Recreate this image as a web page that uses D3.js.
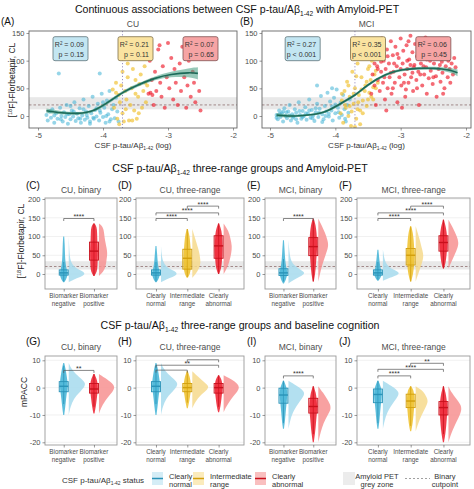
<!DOCTYPE html>
<html><head><meta charset="utf-8">
<script src="https://cdn.jsdelivr.net/npm/d3@7"></script>
<style>body{margin:0;background:#fff}svg{display:block;font-family:"Liberation Sans",Arial,Helvetica,sans-serif}</style>
</head><body><svg id="chart" width="474" height="489"></svg>
<script>
// ---------------- DATA ----------------
const xTicksAB = [-5, -4, -3, -2];
const yTicksAB = [0, 50, 100, 150];
const yTicksPET = [0, 50, 100, 150, 200];
const yTicksPACC = [-20, -10, 0, 10];
const binaryCats = [["Biomarker", "negative"], ["Biomarker", "positive"]];
const threeCats = [["Clearly", "normal"], ["Intermediate", "range"], ["Clearly", "abnormal"]];
const greyZone = [12, 34];
const binaryCut = 20;
const ratioCut = -3.7;

// Panel A (CU) scatter: [log ratio, CL]
const cuNormalPts = [[-4.87,2],[-4.85,-8],[-4.82,8],[-4.8,-3],[-4.78,12],[-4.75,-12],[-4.72,5],[-4.7,-5],[-4.68,77],[-4.66,15],[-4.64,0],[-4.62,-10],[-4.6,7],[-4.58,-2],[-4.56,20],[-4.54,-14],[-4.52,3],[-4.5,-6],[-4.48,10],[-4.46,-1],[-4.44,25],[-4.42,-9],[-4.4,4],[-4.38,-4],[-4.36,14],[-4.34,-12],[-4.32,1],[-4.3,30],[-4.28,-7],[-4.26,8],[-4.24,-3],[-4.22,18],[-4.2,-10],[-4.18,5],[-4.16,35],[-4.14,-5],[-4.12,11],[-4.1,-1],[-4.08,22],[-4.06,-8],[-4.05,77],[-4.04,6],[-4.02,40],[-4.0,-2],[-3.98,15],[-3.96,-12],[-3.94,28],[-3.92,3],[-3.9,45],[-3.88,-6],[-3.86,12],[-3.84,20],[-3.82,-4],[-3.8,33],[-3.78,8],[-3.76,-10],[-4.45,8],[-4.35,-5],[-4.25,2],[-4.15,-3],[-4.05,10],[-3.95,0],[-4.55,3],[-4.65,-6],[-4.75,1],[-4.3,12],[-4.2,-14],[-4.1,14],[-4.0,25],[-3.9,-10],[-4.5,18]];
const cuInterPts = [[-3.85,48],[-3.83,15],[-3.8,60],[-3.78,-5],[-3.76,38],[-3.74,25],[-3.72,55],[-3.7,5],[-3.68,-10],[-3.66,45],[-3.64,30],[-3.62,70],[-3.6,-8],[-3.58,20],[-3.56,50],[-3.54,85],[-3.52,10],[-3.5,65],[-3.48,-5],[-3.46,35],[-3.44,58],[-3.42,75],[-3.4,15],[-3.38,45],[-3.36,90],[-3.34,25],[-3.32,55],[-3.75,-15],[-3.65,12],[-3.55,-8],[-3.45,5],[-3.62,95],[-3.8,42],[-3.7,80],[-3.5,40],[-3.35,60]];
const cuAbnPts = [[-3.3,40],[-3.28,100],[-3.25,65],[-3.22,20],[-3.2,80],[-3.18,45],[-3.15,120],[-3.12,60],[-3.1,35],[-3.08,90],[-3.05,15],[-3.02,70],[-3.0,132],[-2.98,50],[-2.95,105],[-2.92,30],[-2.9,85],[-2.88,60],[-2.85,20],[-2.82,95],[-2.8,45],[-2.78,125],[-2.75,70],[-2.72,15],[-2.7,55],[-2.68,100],[-2.65,35],[-2.62,80],[-2.6,60],[-2.58,25],[-2.55,110],[-2.52,45],[-2.5,10],[-3.27,42],[-3.24,38],[-3.13,128]];
// Panel B (MCI) scatter
const mciNormalPts = [[-4.9,2],[-4.88,-6],[-4.86,10],[-4.84,-2],[-4.82,5],[-4.8,-10],[-4.78,14],[-4.76,0],[-4.74,-4],[-4.72,8],[-4.7,20],[-4.68,-8],[-4.66,3],[-4.64,-1],[-4.62,12],[-4.6,6],[-4.58,-12],[-4.56,25],[-4.54,2],[-4.52,-5],[-4.5,9],[-4.48,0],[-4.46,16],[-4.44,-7],[-4.42,4],[-4.4,30],[-4.38,-3],[-4.36,11],[-4.34,1],[-4.32,-9],[-4.3,7],[-4.28,22],[-4.26,-2],[-4.24,13],[-4.22,36],[-4.2,3],[-4.18,-6],[-4.16,18],[-4.14,8],[-4.12,42],[-4.1,-1],[-4.08,26],[-4.06,10],[-4.04,-8],[-4.02,33],[-4.0,5],[-3.98,48],[-3.96,15],[-3.94,-3],[-3.92,24],[-3.9,2],[-3.88,38],[-3.86,12],[-3.84,-10],[-3.82,20],[-3.8,6],[-3.78,30],[-4.85,4],[-4.75,7],[-4.65,-3],[-4.55,9],[-4.45,5],[-4.35,-4],[-4.25,6],[-4.15,0],[-4.05,17],[-3.95,7],[-4.7,1],[-4.5,-2],[-4.3,14],[-4.1,4],[-4.6,-6],[-4.4,10],[-4.2,-11],[-4.0,21],[-3.85,-5],[-4.8,8],[-4.9,-3],[-4.28,55],[-4.05,50]];
const mciInterPts = [[-3.92,5],[-3.9,28],[-3.88,-12],[-3.86,45],[-3.84,15],[-3.82,62],[-3.8,0],[-3.78,35],[-3.76,-18],[-3.74,80],[-3.72,22],[-3.7,50],[-3.68,-5],[-3.66,95],[-3.64,38],[-3.62,10],[-3.6,70],[-3.58,28],[-3.56,110],[-3.54,55],[-3.52,18],[-3.5,85],[-3.48,42],[-3.46,65],[-3.44,100],[-3.42,30],[-3.4,75],[-3.38,50],[-3.36,115],[-3.35,60],[-3.85,20],[-3.75,8],[-3.65,25],[-3.55,45],[-3.45,35],[-3.62,-15],[-3.58,5],[-3.52,62],[-3.48,90],[-3.72,40],[-3.8,55],[-3.68,72],[-3.6,48],[-3.42,52],[-3.38,82],[-3.7,-20],[-3.66,12],[-3.5,30],[-3.9,40],[-3.78,18]];
const mciAbnPts = [[-3.45,40],[-3.43,75],[-3.42,105],[-3.4,55],[-3.39,130],[-3.38,20],[-3.36,90],[-3.35,65],[-3.33,115],[-3.32,45],[-3.3,80],[-3.29,140],[-3.27,60],[-3.26,100],[-3.24,30],[-3.23,85],[-3.21,120],[-3.2,50],[-3.18,95],[-3.17,70],[-3.15,135],[-3.14,40],[-3.12,110],[-3.11,80],[-3.09,60],[-3.08,125],[-3.06,90],[-3.05,25],[-3.03,105],[-3.02,70],[-3.0,140],[-2.99,55],[-2.97,95],[-2.96,118],[-2.94,75],[-2.93,35],[-2.91,128],[-2.9,85],[-2.88,60],[-2.87,102],[-2.85,145],[-2.84,70],[-2.82,115],[-2.81,45],[-2.79,92],[-2.78,130],[-2.76,65],[-2.75,108],[-2.73,80],[-2.72,20],[-2.7,122],[-2.69,95],[-2.67,55],[-2.66,138],[-2.64,75],[-2.63,110],[-2.61,88],[-2.6,40],[-2.58,125],[-2.57,68],[-2.55,100],[-2.54,82],[-2.52,132],[-2.51,58],[-2.49,95],[-2.48,115],[-2.46,72],[-2.45,35],[-2.43,105],[-2.42,85],[-2.4,128],[-2.39,62],[-2.37,98],[-2.36,78],[-2.34,112],[-2.33,50],[-2.31,90],[-2.3,120],[-2.28,70],[-2.27,100],[-2.25,85],[-2.24,60],[-2.22,95],[-2.2,75],[-2.18,105],[-2.16,88],[-3.1,95],[-3.0,85],[-2.9,100],[-2.8,88],[-2.7,75],[-3.2,108],[-3.3,98],[-3.05,112],[-2.95,60],[-2.85,92],[-2.75,50],[-2.65,90],[-2.55,118],[-2.5,70],[-2.6,102],[-3.15,78],[-3.25,70],[-3.35,85],[-3.4,95],[-2.4,92],[-2.35,40],[-2.45,130],[-2.92,48],[-2.82,78],[-3.12,50],[-3.22,10],[-2.98,15],[-2.62,142],[-2.88,135]];
// smooth fits: [x, fitted CL, half-width of CI]
const cuFit = [[-4.87,9.6,4],[-4.64,6,3],[-4.39,4.8,2.5],[-4.13,10.8,2.5],[-3.87,28.9,3],[-3.67,44,3],[-3.46,56,3],[-3.2,68,3.5],[-2.95,75,5],[-2.69,78,8],[-2.54,77,11]];
const mciFit = [[-4.9,1.8,3.5],[-4.67,0,2.5],[-4.42,1.8,2],[-4.16,7.8,2],[-3.91,23,2.5],[-3.7,38,2.5],[-3.5,56,2.5],[-3.24,74,2.5],[-2.99,83,2.5],[-2.73,86,2.5],[-2.48,86,3],[-2.27,83,4],[-2.13,78,6]];
// stat boxes [R2, p]
const cuStats = [["0.09","p = 0.15"],["0.21","p = 0.11"],["0.07","p = 0.65"]];
const mciStats = [["0.27","p < 0.001"],["0.35","p < 0.001"],["0.06","p = 0.45"]];
const statCenters = [-4.5, -3.5, -2.5];

// Raincloud groups: box [lo, q1, median, q3, hi]; density knots [value, relative width]
const petCuBinary = [
  {k:"n", box:[-20,-3,3,11,32], dens:[[-22,0],[-15,0.25],[-8,0.7],[0,1],[8,0.8],[15,0.45],[25,0.2],[40,0.08],[60,0.04],[80,0.02],[100,0]]},
  {k:"a", box:[-5,37,61,85,135], dens:[[-5,0],[5,0.25],[20,0.4],[40,0.45],[55,0.5],[70,0.45],[90,0.35],[110,0.3],[125,0.25],[135,0]]}];
const petCuThree = [
  {k:"n", box:[-20,-3,3,11,32], dens:[[-22,0],[-15,0.25],[-8,0.7],[0,1],[8,0.8],[15,0.45],[25,0.2],[40,0.08],[55,0.03],[75,0]]},
  {k:"i", box:[-8,13,42,66,120], dens:[[-10,0],[0,0.2],[15,0.4],[30,0.5],[45,0.45],[60,0.4],[75,0.3],[90,0.2],[105,0.1],[120,0]]},
  {k:"a", box:[0,42,75,102,135], dens:[[0,0],[15,0.2],[35,0.35],[55,0.45],[75,0.5],[95,0.4],[115,0.3],[135,0]]}];
const petMciBinary = [
  {k:"n", box:[-20,-4,3,14,40], dens:[[-25,0],[-15,0.3],[-5,0.8],[3,1],[12,0.7],[22,0.35],[35,0.15],[55,0.06],[90,0]]},
  {k:"a", box:[-20,49,73,97,145], dens:[[-20,0],[0,0.1],[20,0.2],[40,0.35],[60,0.5],[75,0.6],[90,0.55],[110,0.4],[130,0.2],[148,0]]}];
const petMciThree = [
  {k:"n", box:[-15,-3,3,11,32], dens:[[-18,0],[-10,0.4],[-3,0.85],[3,1],[10,0.7],[20,0.3],[35,0.1],[65,0]]},
  {k:"i", box:[-20,24,50,68,125], dens:[[-20,0],[0,0.15],[20,0.3],[40,0.45],[55,0.45],[70,0.35],[90,0.25],[110,0.12],[128,0]]},
  {k:"a", box:[15,61,84,102,145], dens:[[15,0],[30,0.15],[50,0.35],[70,0.55],[85,0.6],[100,0.5],[120,0.3],[145,0]]}];
const cogCuBinary = [
  {k:"n", box:[-6,-1.5,0.5,2.2,8], dens:[[-10,0],[-7,0.1],[-4,0.3],[-2,0.6],[0,0.9],[1.5,1],[3,0.8],[5,0.4],[7,0.15],[9,0]]},
  {k:"a", box:[-7,-2,-0.5,1.5,5], dens:[[-9.5,0],[-7,0.15],[-4,0.45],[-2,0.75],[0,0.95],[1.5,0.8],[3,0.5],[5,0]]}];
const cogCuThree = [
  {k:"n", box:[-6,-1.5,0.5,2.2,8], dens:[[-10,0],[-7,0.1],[-4,0.3],[-2,0.6],[0,0.9],[1.5,1],[3,0.8],[5,0.4],[7,0.15],[9,0]]},
  {k:"i", box:[-5.5,-1.5,0,1.5,6], dens:[[-7.5,0],[-5,0.2],[-3,0.45],[-1,0.85],[0.5,1],[2,0.7],[4,0.35],[6,0]]},
  {k:"a", box:[-7,-2,0,1.5,4.5], dens:[[-9,0],[-7,0.15],[-4,0.45],[-2,0.75],[0,0.95],[1.5,0.8],[3,0.5],[4.5,0]]}];
const cogMciBinary = [
  {k:"n", box:[-13,-5.7,-2.7,-0.2,2.5], dens:[[-15,0],[-12,0.1],[-9,0.25],[-6,0.55],[-4,0.8],[-2,1],[0,0.7],[2.5,0]]},
  {k:"a", box:[-17,-9.3,-6.9,-3.9,0.5], dens:[[-20,0],[-16,0.15],[-13,0.3],[-10,0.55],[-8,0.75],[-6,0.7],[-4,0.5],[-2,0.3],[0.5,0]]}];
const cogMciThree = [
  {k:"n", box:[-13,-5.5,-2.5,-0.5,2.5], dens:[[-15,0],[-12,0.1],[-9,0.25],[-6,0.55],[-4,0.8],[-2,1],[0,0.7],[2.5,0]]},
  {k:"i", box:[-14,-7.3,-4.9,-2.4,0.5], dens:[[-16,0],[-13,0.15],[-10,0.35],[-7,0.6],[-5,0.75],[-3,0.6],[-1,0.4],[0.5,0]]},
  {k:"a", box:[-17,-10,-7.3,-5.1,0.5], dens:[[-20,0],[-17,0.15],[-14,0.35],[-11,0.6],[-8,0.8],[-6,0.7],[-4,0.45],[-2,0.2],[0.5,0]]}];
// significance brackets [group1, group2, y, label]
const sigPetBinary = [[0,1,148,"****"]];
const sigPetThree = [[0,1,148,"****"],[0,2,163,"****"],[1,2,181,"****"]];
const sigCogCuBinary = [[0,1,6.3,"**"]];
const sigCogCuThree = [[0,1,6.4,""],[0,2,8.2,"**"],[1,2,10.2,""]];
const sigCogMciBinary = [[0,1,4.3,"****"]];
const sigCogMciThree = [[0,1,4.3,"****"],[0,2,6.7,"****"],[1,2,8.9,"**"]];
const legendItems = [["n","Clearly","normal"],["i","Intermediate","range"],["a","Clearly","abnormal"]];

// ---------------- DRAWING ----------------
const svg = d3.select("#chart");
const COL = {n:"#3fb3d6", i:"#efbf28", a:"#ee1b2b"};
const DARK = {n:"#2a93b8", i:"#d29f0c", a:"#c8101c"};
const LIGHT = {n:"#a6daed", i:"#f6d98c", a:"#f79090"};
const BOXF = {n:"#c3e6f2", i:"#fae3a0", a:"#f6a4a4"};
const BOXS = {n:"#5d7479", i:"#7e6f48", a:"#805252"};
const CUTCOL = "#8f7070";

function T(parent, x, y, size, anchor, fill){
  return parent.append("text").attr("x", x).attr("y", y).attr("font-size", size)
    .attr("text-anchor", anchor || "start").attr("fill", fill || "#000");
}
function ratioText(t, before, after, size){
  t.append("tspan").text(before);
  t.append("tspan").attr("font-size", size * 0.62).attr("dy", size * 0.28).text("1-42");
  t.append("tspan").attr("dy", -size * 0.28).text(after);
  return t;
}
function petLabel(x, y){
  const t = svg.append("text").attr("transform", `translate(${x},${y}) rotate(-90)`)
    .attr("text-anchor", "middle").attr("font-size", 8.5).attr("fill", "#222");
  t.append("tspan").text("[");
  t.append("tspan").attr("font-size", 5.5).attr("dy", -3).text("18");
  t.append("tspan").attr("dy", 3).text("F]-Florbetapir, CL");
}
function styleAxis(g){
  g.select(".domain").remove();
  g.attr("font-family", null).attr("font-size", null);
  g.selectAll(".tick line").attr("stroke", "#555").attr("stroke-width", 0.6);
  g.selectAll(".tick text").attr("fill", "#4d4d4d").attr("font-size", 7.5);
}

// titles
ratioText(T(svg, 237, 13, 10.6, "middle", "#111"), "Continuous associations between CSF p-tau/Aβ", " with Amyloid-PET", 10.6);
ratioText(T(svg, 240, 172, 10.6, "middle", "#111"), "CSF p-tau/Aβ", " three-range groups and Amyloid-PET", 10.6);
ratioText(T(svg, 240, 329, 10.6, "middle", "#111"), "CSF p-tau/Aβ", " three-range groups and baseline cognition", 10.6);

function scatterPanel(o){
  const g = svg.append("g");
  const x = d3.scaleLinear().domain([-5, -2]).range(o.xr);
  const y = d3.scaleLinear().domain([0, 150]).range([116, 33]);
  const [fx0, fx1] = o.fx, fy0 = 31, fy1 = 128;
  svg.append("clipPath").attr("id", "clip" + o.id).append("rect")
    .attr("x", fx0).attr("y", fy0).attr("width", fx1 - fx0).attr("height", fy1 - fy0);
  const inner = g.append("g").attr("clip-path", `url(#clip${o.id})`);
  inner.append("rect").attr("x", fx0).attr("width", fx1 - fx0)
    .attr("y", y(greyZone[1])).attr("height", y(greyZone[0]) - y(greyZone[1])).attr("fill", "#e8e8e8");
  inner.append("line").attr("x1", fx0).attr("x2", fx1).attr("y1", y(binaryCut)).attr("y2", y(binaryCut))
    .attr("stroke", CUTCOL).attr("stroke-width", 0.8).attr("stroke-dasharray", "2.5,2");
  o.sets.forEach(([pts, k]) => {
    inner.append("g").selectAll("circle").data(pts).join("circle")
      .attr("cx", d => x(d[0])).attr("cy", d => y(d[1])).attr("r", 2)
      .attr("fill", COL[k]).attr("fill-opacity", k === "n" ? 0.55 : 0.65);
  });
  inner.append("line").attr("x1", x(ratioCut)).attr("x2", x(ratioCut)).attr("y1", fy0).attr("y2", fy1)
    .attr("stroke", "#9d92c4").attr("stroke-width", 1).attr("stroke-dasharray", "1.2,2");
  inner.append("path").datum(o.fit)
    .attr("d", d3.area().curve(d3.curveNatural).x(d => x(d[0])).y0(d => y(d[1] - d[2])).y1(d => y(d[1] + d[2])))
    .attr("fill", "#3f9b7d").attr("fill-opacity", 0.55);
  inner.append("path").datum(o.fit)
    .attr("d", d3.line().curve(d3.curveNatural).x(d => x(d[0])).y(d => y(d[1])))
    .attr("fill", "none").attr("stroke", "#1c6a58").attr("stroke-width", 1.6);
  // stat boxes
  ["n", "i", "a"].forEach((k, j) => {
    const cx = x(statCenters[j]), top = 36.7, w = 35, h = 24;
    g.append("rect").attr("x", cx - w / 2).attr("y", top).attr("width", w).attr("height", h).attr("rx", 2)
      .attr("fill", BOXF[k]).attr("stroke", BOXS[k]).attr("stroke-width", 0.8);
    const t1 = T(g, cx + w / 2 - 4, top + 10.6, 7, "end", "#333");
    t1.append("tspan").text("R");
    t1.append("tspan").attr("font-size", 4.5).attr("dy", -2.5).text("2");
    t1.append("tspan").attr("dy", 2.5).text(" = " + o.stats[j][0]);
    T(g, cx + w / 2 - 4, top + 20.6, 7, "end", "#333").text(o.stats[j][1]);
  });
  g.append("rect").attr("x", fx0).attr("y", fy0).attr("width", fx1 - fx0).attr("height", fy1 - fy0)
    .attr("fill", "none").attr("stroke", "#666").attr("stroke-width", 0.9);
  const ax = g.append("g").attr("transform", `translate(0,${fy1})`)
    .call(d3.axisBottom(x).tickValues(xTicksAB).tickSize(2.5).tickPadding(2).tickFormat(d => String(d)));
  styleAxis(ax);
  const ay = g.append("g").attr("transform", `translate(${fx0},0)`)
    .call(d3.axisLeft(y).tickValues(yTicksAB).tickSize(2.5).tickPadding(2).tickFormat(d => String(d)));
  styleAxis(ay);
  ratioText(T(g, (fx0 + fx1) / 2, 148, 8, "middle", "#333"), "CSF p-tau/Aβ", " (log)", 8);
  T(g, (fx0 + fx1) / 2, 27, 8.5, "middle", "#4d4d4d").text(o.title);
  T(g, o.labX, 25, 10, "start", "#111").text(o.label);
}

scatterPanel({id:"A", fx:[29,237], xr:[38,233], sets:[[cuNormalPts,"n"],[cuInterPts,"i"],[cuAbnPts,"a"]],
  fit:cuFit, stats:cuStats, title:"CU", label:"(A)", labX:1});
scatterPanel({id:"B", fx:[262,471], xr:[270,466], sets:[[mciNormalPts,"n"],[mciInterPts,"i"],[mciAbnPts,"a"]],
  fit:mciFit, stats:mciStats, title:"MCI", label:"(B)", labX:240});
petLabel(15, 80);

function rainPanel(o){
  const g = svg.append("g");
  const [fx0, fx1] = o.fx, [fy0, fy1] = o.fy;
  const y = d3.scaleLinear().domain(o.ydom).range(o.yr);
  const w = fx1 - fx0;
  const fr = o.groups.length === 2 ? [0.26, 0.68] : [0.185, 0.765];
  const x = d3.scalePoint().domain(d3.range(o.groups.length)).range([fx0 + fr[0] * w, fx0 + fr[1] * w]);
  svg.append("clipPath").attr("id", "clip" + o.id).append("rect")
    .attr("x", fx0).attr("y", fy0).attr("width", w).attr("height", fy1 - fy0);
  const inner = g.append("g").attr("clip-path", `url(#clip${o.id})`);
  inner.selectAll("line.grid").data(o.ticks).join("line").attr("class", "grid")
    .attr("x1", fx0).attr("x2", fx1).attr("y1", d => y(d)).attr("y2", d => y(d))
    .attr("stroke", "#ebebeb").attr("stroke-width", 0.7);
  if (o.pet) {
    inner.append("rect").attr("x", fx0).attr("width", w)
      .attr("y", y(greyZone[1])).attr("height", y(greyZone[0]) - y(greyZone[1])).attr("fill", "#e8e8e8");
    inner.append("line").attr("x1", fx0).attr("x2", fx1).attr("y1", y(binaryCut)).attr("y2", y(binaryCut))
      .attr("stroke", CUTCOL).attr("stroke-width", 0.8).attr("stroke-dasharray", "2.5,2");
  }
  o.groups.forEach((gr, j) => {
    const cx = x(j), k = gr.k;
    const mx = d3.max(gr.dens, d => d[1]);
    inner.append("path").datum(gr.dens)
      .attr("d", d3.area().curve(d3.curveBasis).y(d => y(d[0])).x0(cx + 5).x1(d => cx + 5 + d[1] * 17))
      .attr("fill", LIGHT[k]).attr("fill-opacity", 0.85);
    inner.append("path").datum(gr.dens)
      .attr("d", d3.area().curve(d3.curveBasis).y(d => y(d[0]))
        .x0(d => cx - (0.5 + 3.4 * Math.sqrt(d[1] / mx))).x1(d => cx + (0.5 + 3.4 * Math.sqrt(d[1] / mx))))
      .attr("fill", COL[k]).attr("fill-opacity", 0.85);
    const b = gr.box;
    inner.append("line").attr("x1", cx).attr("x2", cx).attr("y1", y(b[0])).attr("y2", y(b[4]))
      .attr("stroke", DARK[k]).attr("stroke-width", 0.8);
    inner.append("rect").attr("x", cx - 4.5).attr("width", 9).attr("y", y(b[3])).attr("height", y(b[1]) - y(b[3]))
      .attr("fill", COL[k]).attr("fill-opacity", 0.3).attr("stroke", DARK[k]).attr("stroke-width", 0.9);
    inner.append("line").attr("x1", cx - 4.5).attr("x2", cx + 4.5).attr("y1", y(b[2])).attr("y2", y(b[2]))
      .attr("stroke", DARK[k]).attr("stroke-width", 1.4);
  });
  o.sig.forEach(([a, b2, v, lab]) => {
    const yy = y(v);
    g.append("path").attr("d", `M${x(a)},${yy + 2.5}V${yy}H${x(b2)}V${yy + 2.5}`)
      .attr("fill", "none").attr("stroke", "#555").attr("stroke-width", 0.7);
    if (lab) T(g, (x(a) + x(b2)) / 2, yy + 0.5, 7, "middle", "#333").text(lab);
  });
  g.append("rect").attr("x", fx0).attr("y", fy0).attr("width", w).attr("height", fy1 - fy0)
    .attr("fill", "none").attr("stroke", "#9a9a9a").attr("stroke-width", 0.9);
  const ax = g.append("g").attr("transform", `translate(0,${fy1})`)
    .call(d3.axisBottom(x).tickSize(2.5).tickFormat(() => ""));
  styleAxis(ax);
  o.cats.forEach((c, j) => {
    T(g, x(j), fy1 + 9, 6.3, "middle", "#4d4d4d").text(c[0]);
    T(g, x(j), fy1 + 16.5, 6.3, "middle", "#4d4d4d").text(c[1]);
  });
  const ay = g.append("g").attr("transform", `translate(${fx0},0)`)
    .call(d3.axisLeft(y).tickValues(o.ticks).tickSize(2.5).tickPadding(2).tickFormat(d => String(d)));
  styleAxis(ay);
  T(g, (fx0 + fx1) / 2, o.titleY, 8.5, "middle", "#4d4d4d").text(o.title);
  T(g, o.labX, o.labY, 10, "start", "#111").text(o.label);
}

const row2 = {fy:[198,289], ydom:[0,200], yr:[274,199], ticks:yTicksPET, pet:true, titleY:193, labY:189};
const row3 = {fy:[356,445], ydom:[-20,10], yr:[442.3,360.3], ticks:yTicksPACC, pet:false, titleY:350, labY:345};
rainPanel({...row2, id:"C", fx:[45,117], groups:petCuBinary, cats:binaryCats, sig:sigPetBinary, title:"CU, binary", label:"(C)", labX:26});
rainPanel({...row2, id:"D", fx:[136,244], groups:petCuThree, cats:threeCats, sig:sigPetThree, title:"CU, three-range", label:"(D)", labX:118});
rainPanel({...row2, id:"E", fx:[265,336], groups:petMciBinary, cats:binaryCats, sig:sigPetBinary, title:"MCI, binary", label:"(E)", labX:247});
rainPanel({...row2, id:"F", fx:[357,470], groups:petMciThree, cats:threeCats, sig:sigPetThree, title:"MCI, three-range", label:"(F)", labX:339});
rainPanel({...row3, id:"G", fx:[45,117], groups:cogCuBinary, cats:binaryCats, sig:sigCogCuBinary, title:"CU, binary", label:"(G)", labX:26});
rainPanel({...row3, id:"H", fx:[136,244], groups:cogCuThree, cats:threeCats, sig:sigCogCuThree, title:"CU, three-range", label:"(H)", labX:118});
rainPanel({...row3, id:"I", fx:[265,336], groups:cogMciBinary, cats:binaryCats, sig:sigCogMciBinary, title:"MCI, binary", label:"(I)", labX:247});
rainPanel({...row3, id:"J", fx:[357,470], groups:cogMciThree, cats:threeCats, sig:sigCogMciThree, title:"MCI, three-range", label:"(J)", labX:339});
petLabel(24, 241);
svg.append("text").attr("transform", "translate(27,392) rotate(-90)").attr("text-anchor", "middle")
  .attr("font-size", 8.5).attr("fill", "#222").text("mPACC");

// legend
const lg = svg.append("g");
ratioText(T(lg, 62, 483, 8, "start", "#333"), "CSF p-tau/Aβ", " status", 8);
const legX = [152, 193, 255];
legendItems.forEach(([k, l1, l2], j) => {
  lg.append("rect").attr("x", legX[j]).attr("y", 472).attr("width", 11).attr("height", 13).attr("fill", BOXF[k]).attr("fill-opacity", 0.7);
  lg.append("line").attr("x1", legX[j]).attr("x2", legX[j] + 11).attr("y1", 478.5).attr("y2", 478.5)
    .attr("stroke", DARK[k]).attr("stroke-width", 1.5);
  T(lg, legX[j] + 17, 479, 7.5, "start", "#333").text(l1);
  T(lg, legX[j] + 17, 487, 7.5, "start", "#333").text(l2);
});
lg.append("rect").attr("x", 343).attr("y", 472).attr("width", 12).attr("height", 13).attr("fill", "#ececec");
T(lg, 377, 479, 7.5, "middle", "#333").text("Amyloid PET");
T(lg, 377, 487, 7.5, "middle", "#333").text("grey zone");
lg.append("line").attr("x1", 405).attr("x2", 430).attr("y1", 478.5).attr("y2", 478.5)
  .attr("stroke", "#888").attr("stroke-width", 0.8).attr("stroke-dasharray", "2,2");
T(lg, 445, 479, 7.5, "middle", "#333").text("Binary");
T(lg, 445, 487, 7.5, "middle", "#333").text("cutpoint");
</script></body></html>
